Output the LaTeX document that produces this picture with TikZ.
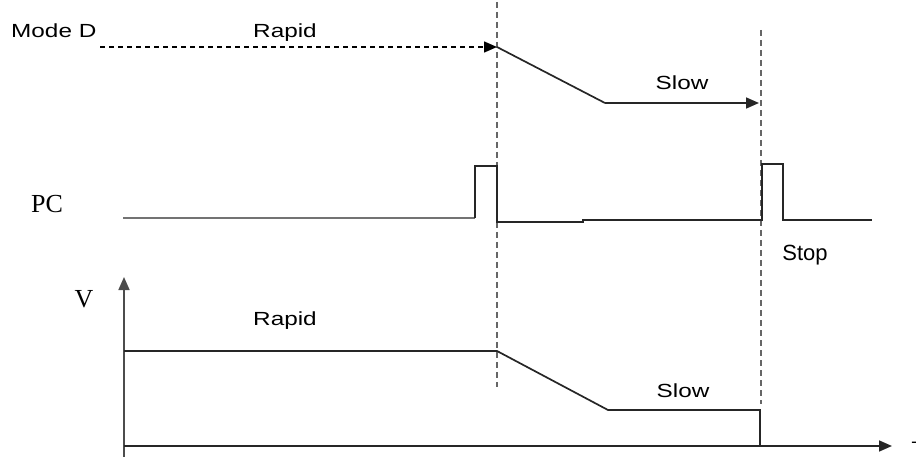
\documentclass[tikz,border=0pt]{standalone}
\usepackage{fontspec}
\setmainfont{Liberation Sans}
\newfontfamily\widesans{Liberation Sans}[FakeStretch=1.28]
\newfontfamily\tmsserif{Liberation Serif}
\usetikzlibrary{arrows.meta}
\tikzset{
  lbl/.style={inner sep=0pt, anchor=base, font=\widesans\fontsize{19}{21}\selectfont},
  slbl/.style={inner sep=0pt, anchor=base, font=\tmsserif\fontsize{26}{28}\selectfont},
  sig/.style={draw=black!85, line width=1.7pt, line join=miter},
  hdash/.style={draw=black, line width=1.5pt, dash pattern=on 5pt off 4pt},
  guide/.style={draw=black!60, line width=1.6pt, dash pattern=on 6pt off 4pt},
  ar/.style={-{Triangle[length=13pt,width=11pt]}},
}
\begin{document}
\begin{tikzpicture}[x=1pt,y=-1pt]
  \useasboundingbox (0,0) rectangle (916,457);
  % guide lines
  \coordinate (g1t) at (497,2);
  \coordinate (g1b) at (497,387);
  \coordinate (g2t) at (761,30);
  \coordinate (g2b) at (761,404);
  \draw[guide] (g1t) -- (g1b);
  \draw[guide] (g2t) -- (g2b);

  % mode D
  \node[lbl, anchor=base west] (moded) at (11,38) {Mode D};
  \node[lbl] (rapidA) at (285,38) {Rapid};
  \node[lbl] (slowA) at (682,90) {Slow};
  \coordinate (m0) at (100,47);
  \coordinate (m1) at (497,47);
  \coordinate (m2) at (605,103);
  \coordinate (m3) at (759,103);
  \draw[hdash, ar] (m0) -- (m1);
  \draw[sig] (m1) -- (m2);
  \draw[sig, ar] (m2) -- (m3);

  % PC signal
  \node[slbl] (pc) at (47,213) {PC};
  \node[inner sep=0pt, anchor=base, font=\fontsize{22}{24}\selectfont] (stop) at (805,261) {Stop};
  \coordinate (p0) at (123,218);
  \coordinate (p1) at (475,218);
  \draw[sig, draw=black!55, line width=2.2pt] (p0) -- (p1);
  \draw[sig] (p1) |- (497,166) -- (497,222) -- (583,222) -- (583,220) -- (762,220)
    |- (783,164) |- (872,220);

  % velocity graph
  \node[slbl] (vlbl) at (84,307) {V};
  \node[lbl] (rapidB) at (285,325) {Rapid};
  \node[lbl] (slowB) at (683,397) {Slow};
  \node[inner sep=0pt, anchor=north, font=\fontsize{18}{20}\selectfont] (tlbl) at (917,442) {T};
  \coordinate (o) at (124,446);
  \coordinate (vtop) at (124,277);
  \coordinate (vbot) at (124,457);
  \coordinate (tend) at (892,446);
  \draw[sig, draw=black!70, ar] (vbot) -- (vtop);
  \draw[sig, ar] (o) -- (tend);
  \coordinate (v0) at (124,351);
  \coordinate (v1) at (497,351);
  \coordinate (v2) at (608,410);
  \coordinate (v3) at (760,410);
  \draw[sig] (v0) -- (v1) -- (v2) -- (v3) -- (760,446);
\end{tikzpicture}
\end{document}
